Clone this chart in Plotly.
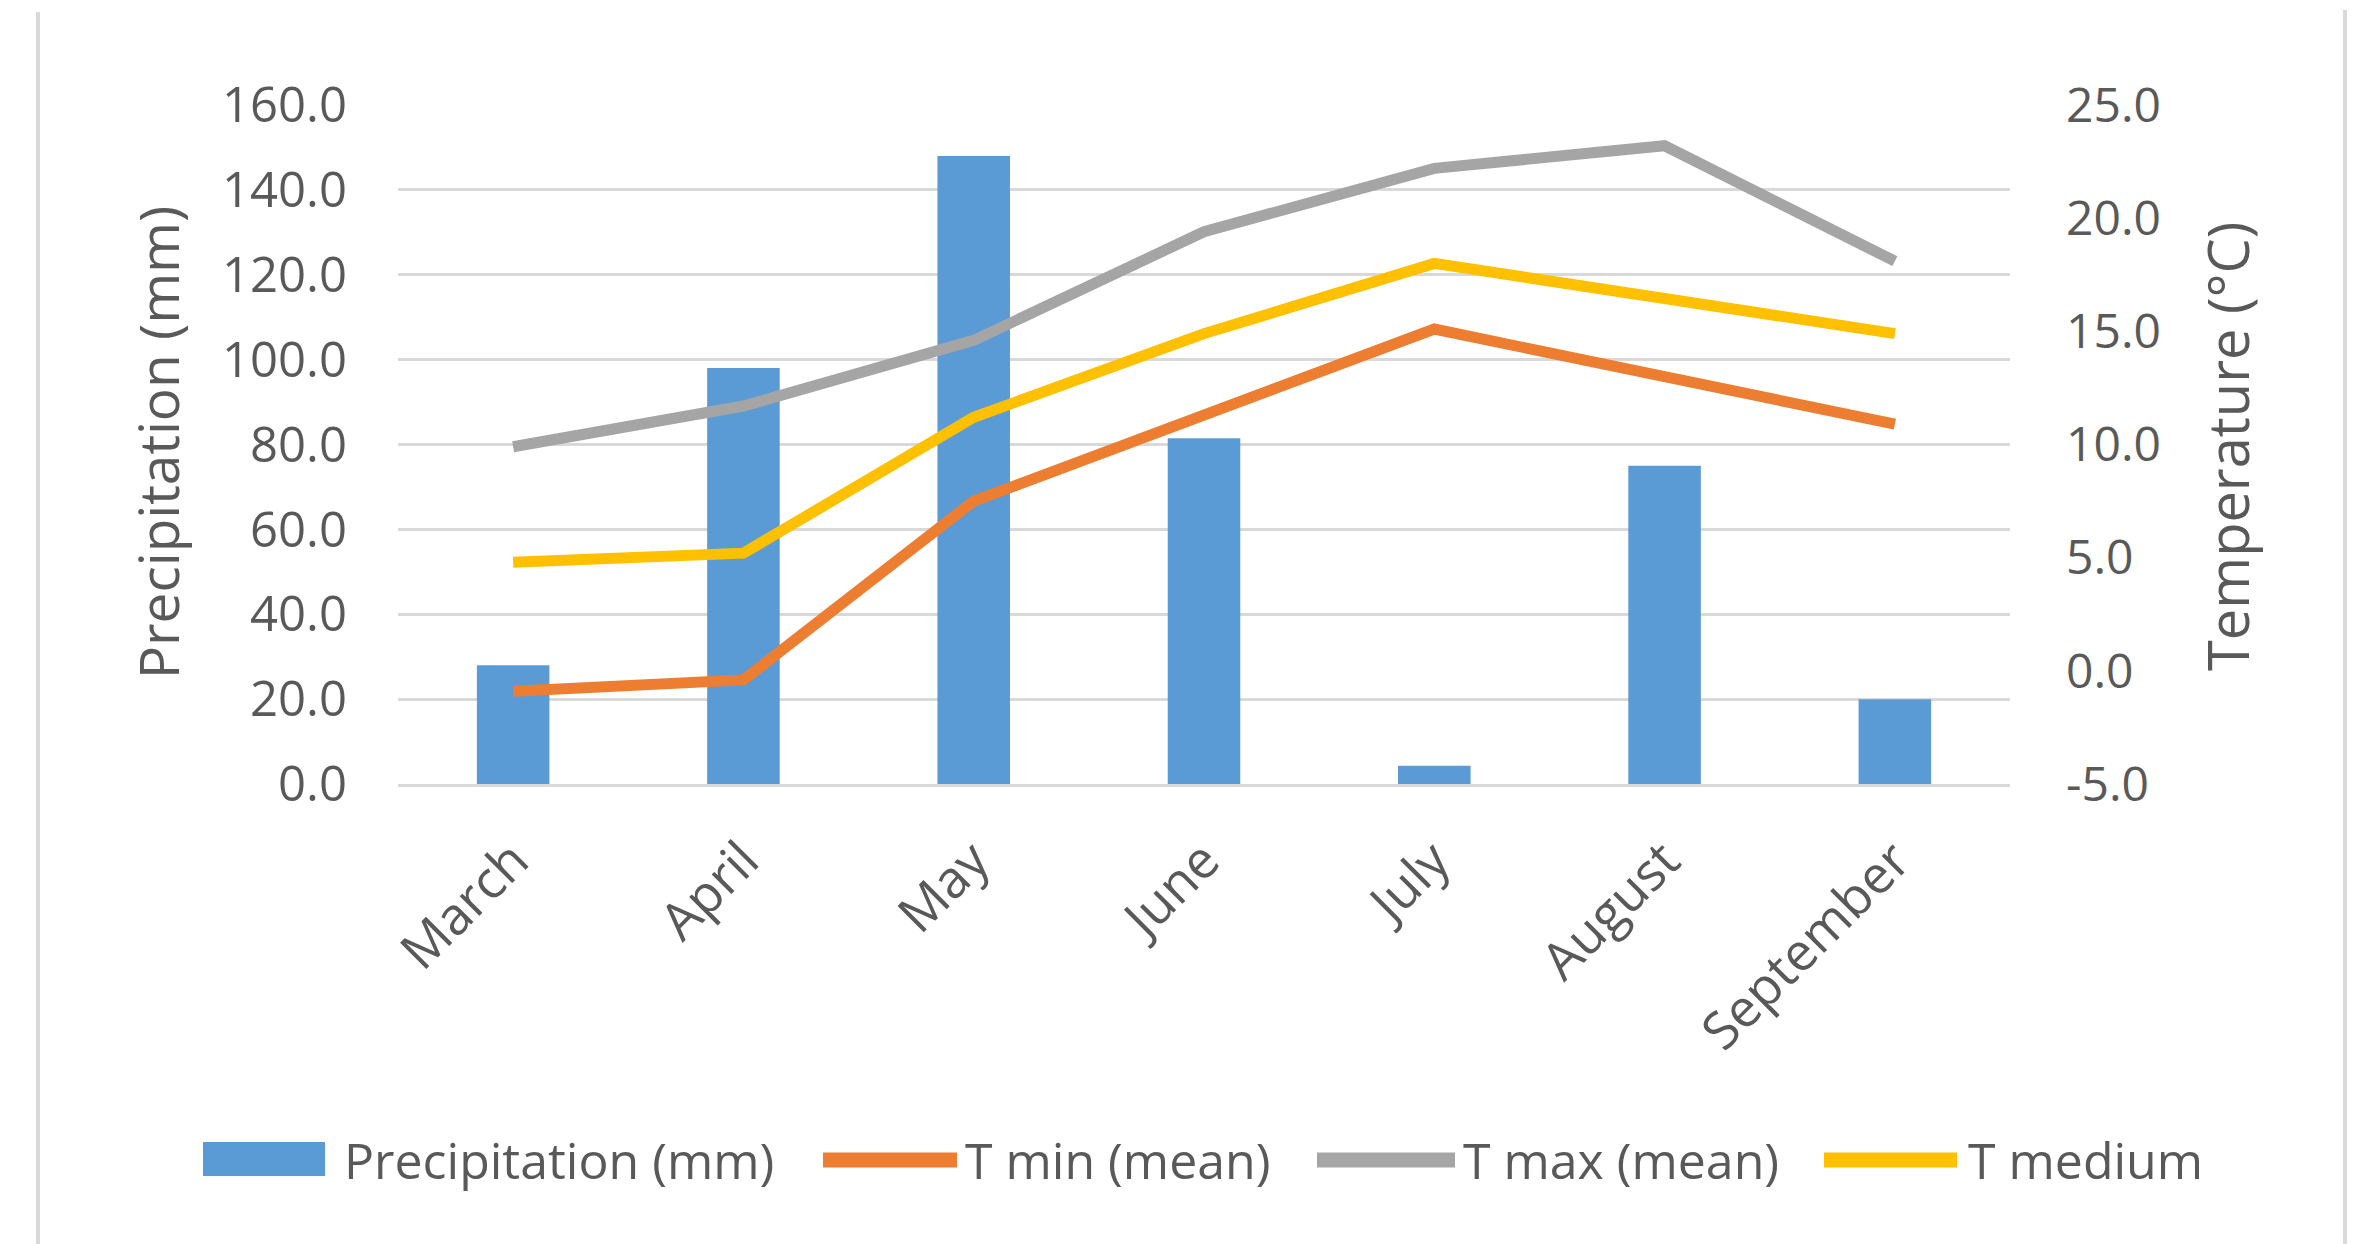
import plotly.graph_objects as go

# ---------------- data ----------------
months = ["March", "April", "May", "June", "July", "August", "September"]
precipitation = [28.0, 98.0, 148.0, 81.5, 4.3, 75.0, 20.0]
t_min = [-0.9, -0.4, 7.5, 11.3, 15.1, 13.0, 10.9]
t_max = [9.9, 11.7, 14.6, 19.4, 22.2, 23.2, 18.1]
t_medium = [4.8, 5.2, 11.2, 14.9, 18.0, 16.5, 14.9]

series_names = ["Precipitation (mm)", "T min (mean)", "T max (mean)", "T medium"]
left_ticks = [0, 20, 40, 60, 80, 100, 120, 140, 160]
right_ticks = [-5, 0, 5, 10, 15, 20, 25]

# ---------------- styling ----------------
W, H = 2355, 1244
L, R, T, B = 398, 2010, 105, 784
FONT = "Open Sans"
TXT = "#595959"
GRID = "#d9d9d9"
C_BAR = "#5B9BD5"
C_MIN = "#ED7D31"
C_MAX = "#A5A5A5"
C_MED = "#FFC000"


def px_x(x):
    return (x - L) / (R - L)


def px_y(y):
    return (B - y) / (B - T)


fig = go.Figure()
fig.add_trace(go.Bar(x=months, y=precipitation, name=series_names[0],
                     marker=dict(color=C_BAR, line=dict(width=0)), yaxis="y"))
for vals, name, col in [(t_min, series_names[1], C_MIN),
                        (t_max, series_names[2], C_MAX),
                        (t_medium, series_names[3], C_MED)]:
    fig.add_trace(go.Scatter(x=months, y=vals, name=name, mode="lines",
                             line=dict(color=col, width=11), yaxis="y2"))

fig.update_layout(
    width=W, height=H,
    margin=dict(l=L, r=W - R, t=T, b=H - B, pad=0),
    paper_bgcolor="white", plot_bgcolor="white",
    showlegend=False,
    bargap=0.685,
    font=dict(family=FONT, color=TXT),
    xaxis=dict(showgrid=False, showline=True, linecolor=GRID, linewidth=3,
               tickangle=-45, tickfont=dict(size=52, color=TXT),
               ticks="", ticklabelstandoff=22),
    yaxis=dict(range=[0, 160], tickvals=left_ticks,
               ticktext=[f"{v:.1f}" for v in left_ticks],
               showgrid=True, gridcolor=GRID, gridwidth=2.5, zeroline=False,
               showline=False, ticks="", tickfont=dict(size=49, color=TXT),
               ticklabelstandoff=50),
    yaxis2=dict(range=[-5, 25], tickvals=right_ticks,
                ticktext=[f"{v:.1f}" for v in right_ticks],
                overlaying="y", side="right", showgrid=False, zeroline=False,
                showline=False, ticks="", tickfont=dict(size=48, color=TXT),
                ticklabelstandoff=55),
)

annotations = [
    dict(text="Precipitation (mm)", x=px_x(157), y=px_y(443), xref="paper", yref="paper",
         textangle=-90, showarrow=False, font=dict(size=55, color=TXT, family=FONT),
         xanchor="center", yanchor="middle"),
    dict(text="Temperature (°C)", x=px_x(2227), y=px_y(447), xref="paper", yref="paper",
         textangle=-90, showarrow=False, font=dict(size=56, color=TXT, family=FONT),
         xanchor="center", yanchor="middle"),
]

shapes = [
    dict(type="line", xref="paper", yref="paper", x0=px_x(38), x1=px_x(38),
         y0=px_y(12), y1=px_y(H + 5), line=dict(color=GRID, width=4)),
    dict(type="line", xref="paper", yref="paper", x0=px_x(2345), x1=px_x(2345),
         y0=px_y(10), y1=px_y(H + 5), line=dict(color=GRID, width=4)),
]

# custom legend (symbol geometry in pixels)
legend_y = 1160
legend_items = [
    ("rect", C_BAR, 203, 325, 342),
    ("line", C_MIN, 823, 957, 963),
    ("line", C_MAX, 1317, 1455, 1461),
    ("line", C_MED, 1824, 1957, 1966),
]
for (kind, col, sx0, sx1, tx), name in zip(legend_items, series_names):
    if kind == "rect":
        shapes.append(dict(type="rect", xref="paper", yref="paper",
                           x0=px_x(sx0), x1=px_x(sx1), y0=px_y(1176), y1=px_y(1142),
                           fillcolor=col, line=dict(width=0)))
    else:
        shapes.append(dict(type="line", xref="paper", yref="paper",
                           x0=px_x(sx0), x1=px_x(sx1), y0=px_y(legend_y), y1=px_y(legend_y),
                           line=dict(color=col, width=15)))
    annotations.append(dict(text=name, x=px_x(tx), y=px_y(legend_y), xref="paper", yref="paper",
                            showarrow=False, xanchor="left", yanchor="middle",
                            font=dict(size=50, color=TXT, family=FONT)))

fig.update_layout(annotations=annotations, shapes=shapes)
fig.write_html("out.html")
